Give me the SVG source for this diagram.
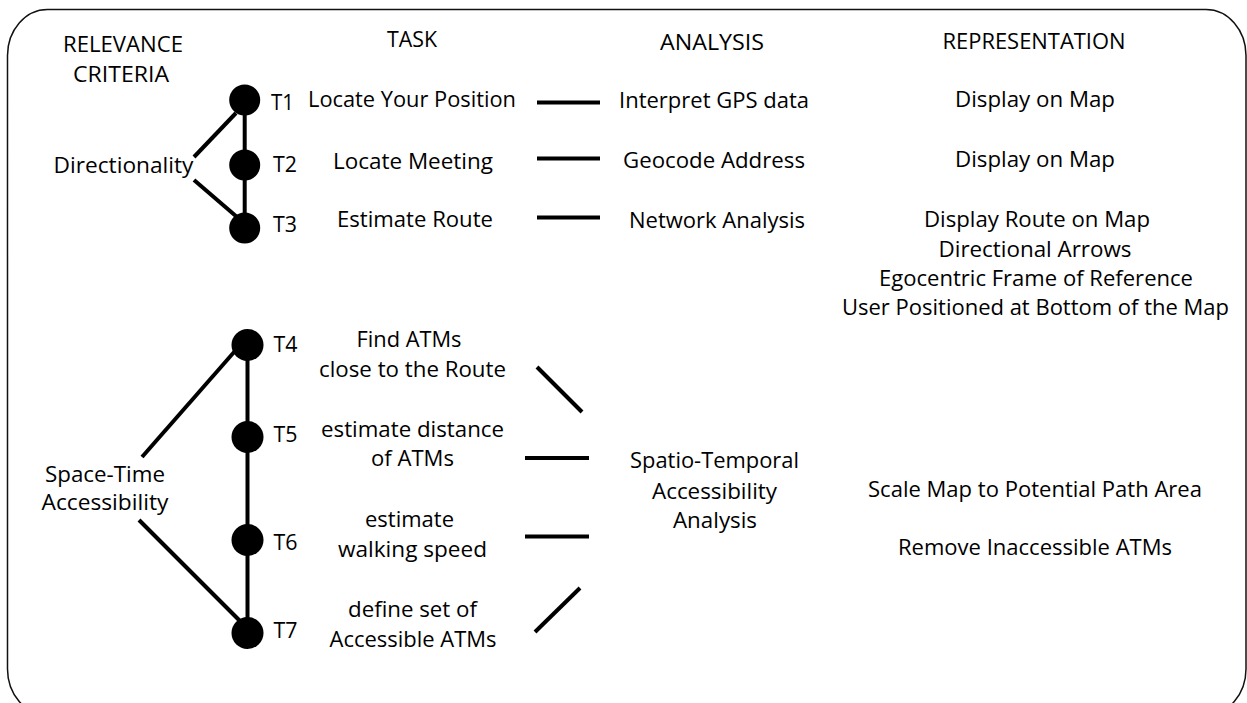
<svg xmlns="http://www.w3.org/2000/svg" width="1247" height="703" viewBox="0 0 1247 703">
<style>
text{font-family:"Open Sans","Noto Sans","DejaVu Sans",sans-serif;font-size:21px;fill:#000;}
.c{text-anchor:middle;}
.dot{fill:#000;}
.ln{stroke:#000;stroke-width:4;fill:none;stroke-linecap:butt;}
.border{fill:none;stroke:#111;stroke-width:1.5;}
</style>
<rect width="1247" height="703" fill="#fff"/>
<path class="border" d="M47.5,9.5 H1206 A40,46 0 0 1 1246,55.5 V669 A40,46 0 0 1 1206,715 H47.5 A40,46 0 0 1 7.5,669 V55.5 A40,46 0 0 1 47.5,9.5 Z"/>

<g id="headers">
<text class="c" x="123" y="52" textLength="120" lengthAdjust="spacingAndGlyphs">RELEVANCE</text>
<text class="c" x="121" y="82" textLength="96" lengthAdjust="spacingAndGlyphs">CRITERIA</text>
<text class="c" x="412" y="47" textLength="50" lengthAdjust="spacingAndGlyphs">TASK</text>
<text class="c" x="712" y="50" textLength="104" lengthAdjust="spacingAndGlyphs">ANALYSIS</text>
<text class="c" x="1034" y="49" textLength="183" lengthAdjust="spacingAndGlyphs">REPRESENTATION</text>
</g>

<g id="connectors">
<line class="ln" x1="244.7" y1="100" x2="244.7" y2="228"/>
<line class="ln" x1="247.5" y1="345" x2="247.5" y2="633"/>
<line class="ln" x1="194" y1="157" x2="236" y2="113"/>
<line class="ln" x1="194" y1="180" x2="237" y2="217"/>
<line class="ln" x1="142" y1="457" x2="235" y2="351"/>
<line class="ln" x1="139" y1="520" x2="240" y2="621"/>
<line class="ln" x1="537" y1="102.5" x2="600" y2="102.5"/>
<line class="ln" x1="537" y1="158.5" x2="600" y2="158.5"/>
<line class="ln" x1="537" y1="217.5" x2="600" y2="217.5"/>
<line class="ln" x1="537" y1="367" x2="582" y2="412"/>
<line class="ln" x1="525" y1="458" x2="589" y2="458"/>
<line class="ln" x1="525" y1="536.5" x2="589" y2="536.5"/>
<line class="ln" x1="535" y1="632" x2="580" y2="588"/>
</g>

<g id="criterion-directionality">
<text class="c" x="123.5" y="173" textLength="140" lengthAdjust="spacingAndGlyphs">Directionality</text>
</g>
<g id="criterion-space-time">
<text class="c" x="105" y="482" textLength="120" lengthAdjust="spacingAndGlyphs">Space-Time</text>
<text class="c" x="105" y="510" textLength="127" lengthAdjust="spacingAndGlyphs">Accessibility</text>
</g>

<g id="task-t1">
<circle class="dot" cx="244.7" cy="100" r="15.5"/>
<text x="271" y="109.5" textLength="23" lengthAdjust="spacingAndGlyphs">T1</text>
<text class="c" x="412" y="107" textLength="208" lengthAdjust="spacingAndGlyphs">Locate Your Position</text>
</g>
<g id="task-t2">
<circle class="dot" cx="244.7" cy="165" r="15.5"/>
<text x="273" y="172" textLength="24" lengthAdjust="spacingAndGlyphs">T2</text>
<text class="c" x="413" y="169" textLength="160" lengthAdjust="spacingAndGlyphs">Locate Meeting</text>
</g>
<g id="task-t3">
<circle class="dot" cx="244.7" cy="228" r="15.5"/>
<text x="273" y="232" textLength="24" lengthAdjust="spacingAndGlyphs">T3</text>
<text class="c" x="415" y="227" textLength="156" lengthAdjust="spacingAndGlyphs">Estimate Route</text>
</g>
<g id="task-t4">
<circle class="dot" cx="247.5" cy="345" r="16"/>
<text x="273.5" y="352" textLength="24" lengthAdjust="spacingAndGlyphs">T4</text>
<text class="c" x="409" y="347" textLength="105" lengthAdjust="spacingAndGlyphs">Find ATMs</text>
<text class="c" x="412.5" y="377" textLength="187" lengthAdjust="spacingAndGlyphs">close to the Route</text>
</g>
<g id="task-t5">
<circle class="dot" cx="247.5" cy="437" r="16"/>
<text x="273.5" y="442" textLength="24" lengthAdjust="spacingAndGlyphs">T5</text>
<text class="c" x="412.5" y="437" textLength="183" lengthAdjust="spacingAndGlyphs">estimate distance</text>
<text class="c" x="412.5" y="466" textLength="83" lengthAdjust="spacingAndGlyphs">of ATMs</text>
</g>
<g id="task-t6">
<circle class="dot" cx="247.5" cy="540" r="16"/>
<text x="273.5" y="550" textLength="24" lengthAdjust="spacingAndGlyphs">T6</text>
<text class="c" x="409.5" y="527" textLength="89" lengthAdjust="spacingAndGlyphs">estimate</text>
<text class="c" x="412.5" y="557" textLength="149" lengthAdjust="spacingAndGlyphs">walking speed</text>
</g>
<g id="task-t7">
<circle class="dot" cx="247.5" cy="633" r="16"/>
<text x="273.5" y="638" textLength="24" lengthAdjust="spacingAndGlyphs">T7</text>
<text class="c" x="412.5" y="617" textLength="129" lengthAdjust="spacingAndGlyphs">define set of</text>
<text class="c" x="413" y="647" textLength="167" lengthAdjust="spacingAndGlyphs">Accessible ATMs</text>
</g>

<g id="analysis-gps">
<text class="c" x="714" y="108" textLength="190" lengthAdjust="spacingAndGlyphs">Interpret GPS data</text>
</g>
<g id="analysis-geocode">
<text class="c" x="714" y="168" textLength="182" lengthAdjust="spacingAndGlyphs">Geocode Address</text>
</g>
<g id="analysis-network">
<text class="c" x="717" y="228" textLength="176" lengthAdjust="spacingAndGlyphs">Network Analysis</text>
</g>
<g id="analysis-spatio-temporal">
<text class="c" x="714.5" y="468" textLength="169" lengthAdjust="spacingAndGlyphs">Spatio-Temporal</text>
<text class="c" x="714.5" y="499" textLength="125" lengthAdjust="spacingAndGlyphs">Accessibility</text>
<text class="c" x="715" y="528" textLength="84" lengthAdjust="spacingAndGlyphs">Analysis</text>
</g>

<g id="rep-1">
<text class="c" x="1035" y="107" textLength="160" lengthAdjust="spacingAndGlyphs">Display on Map</text>
</g>
<g id="rep-2">
<text class="c" x="1035" y="167" textLength="160" lengthAdjust="spacingAndGlyphs">Display on Map</text>
</g>
<g id="rep-3">
<text class="c" x="1037" y="227" textLength="226" lengthAdjust="spacingAndGlyphs">Display Route on Map</text>
<text class="c" x="1035" y="257" textLength="193" lengthAdjust="spacingAndGlyphs">Directional Arrows</text>
<text class="c" x="1036" y="286" textLength="314" lengthAdjust="spacingAndGlyphs">Egocentric Frame of Reference</text>
<text class="c" x="1035.5" y="315" textLength="387" lengthAdjust="spacingAndGlyphs">User Positioned at Bottom of the Map</text>
</g>
<g id="rep-4">
<text class="c" x="1035" y="497" textLength="334" lengthAdjust="spacingAndGlyphs">Scale Map to Potential Path Area</text>
<text class="c" x="1035" y="555" textLength="274" lengthAdjust="spacingAndGlyphs">Remove Inaccessible ATMs</text>
</g>
</svg>
